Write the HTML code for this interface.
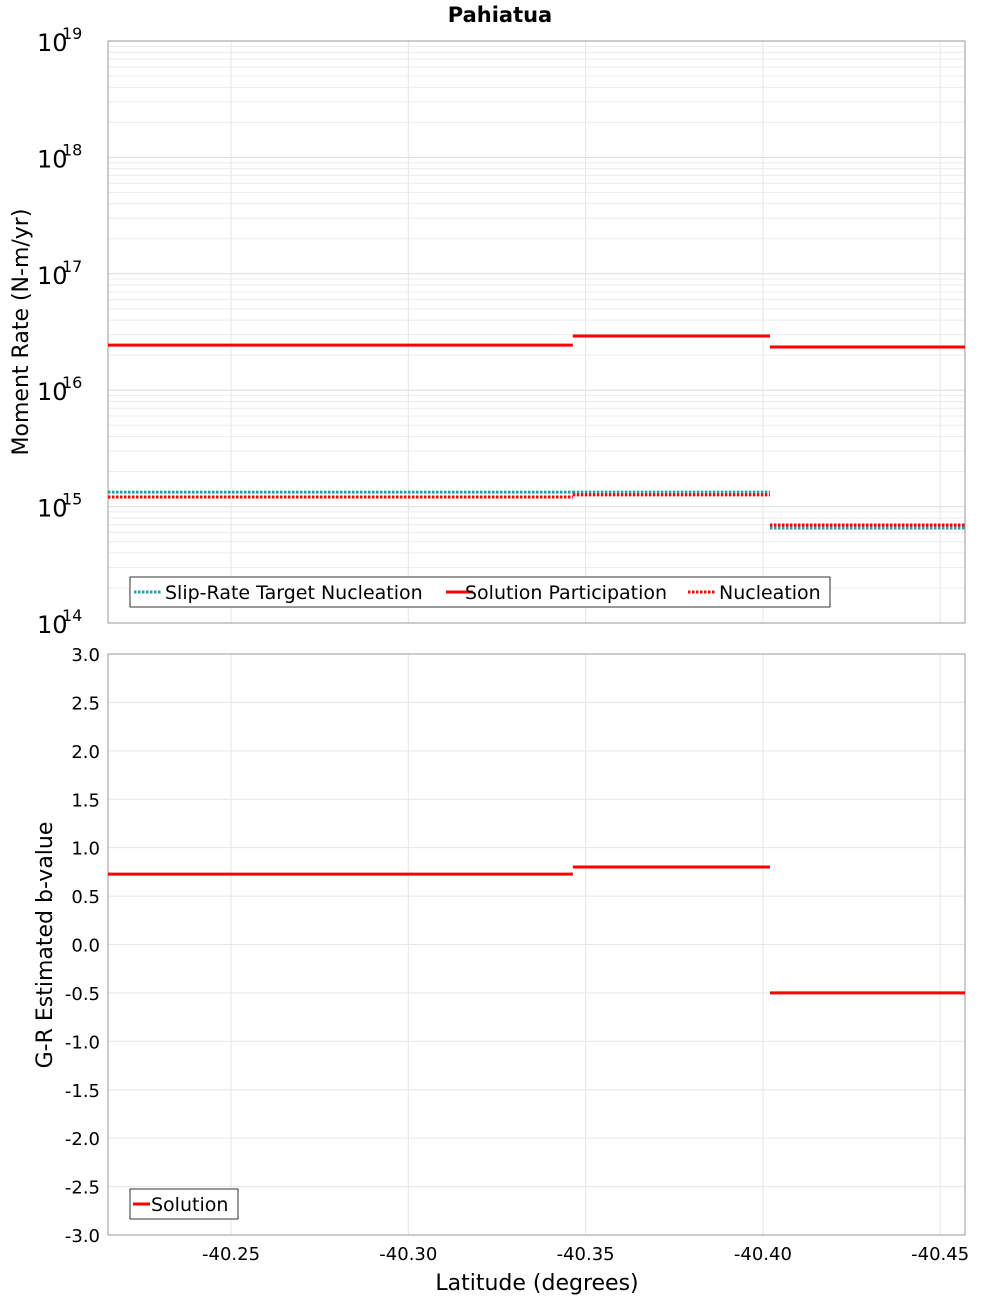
<!DOCTYPE html>
<html><head><meta charset="utf-8"><style>
body{margin:0;background:#fff;font-family:"Liberation Sans","DejaVu Sans",sans-serif}
svg text{font-family:"DejaVu Sans","Liberation Sans",sans-serif}
</style></head><body>
<svg id="chart" width="1000" height="1300" xmlns="http://www.w3.org/2000/svg">
<text x="500" y="22" text-anchor="middle" font-size="21" font-weight="bold">Pahiatua</text>
<g id="topPanel"></g>
<g id="botPanel"></g>
<text x="28" y="332" transform="rotate(-90 28 332)" text-anchor="middle" font-size="22">Moment Rate (N-m/yr)</text>
<text x="52" y="945" transform="rotate(-90 52 945)" text-anchor="middle" font-size="22">G-R Estimated b-value</text>
<text x="537" y="1290" text-anchor="middle" font-size="22">Latitude (degrees)</text>
</svg>
<script>
const segStarts=[-40.2153,-40.3464,-40.402];
const segEnds=[-40.3464,-40.402,-40.457];
const participation=[2.44e16,2.92e16,2.35e16];
const targetNucl=[1.33e15,1.33e15,6.55e14];
const nucleation=[1.21e15,1.26e15,6.95e14];
const bValues=[0.727,0.80,-0.50];
const xTicks=[-40.25,-40.30,-40.35,-40.40,-40.45];
const decades=[14,15,16,17,18,19];
const bTicks=[-3,-2.5,-2,-1.5,-1,-0.5,0,0.5,1,1.5,2,2.5,3];

const NS='http://www.w3.org/2000/svg';
const svgEl=document.getElementById('chart');
const L=108,R=965,T1=41,B1=623,T2=654,B2=1235;
const xMin=-40.2153,xMax=-40.457;
const X=v=>L+(v-xMin)/(xMax-xMin)*(R-L);
const Y1=v=>B1-(Math.log10(v)-14)/5*(B1-T1);
const Y2=v=>B2-(v+3)/6*(B2-T2);
function mk(tag,attrs,parent,txt){const e=document.createElementNS(NS,tag);for(const k in attrs)e.setAttribute(k,attrs[k]);if(txt!==undefined)e.textContent=txt;(parent||svgEl).appendChild(e);return e;}
const topG=document.getElementById('topPanel'),botG=document.getElementById('botPanel');
for(let d=14;d<19;d++)for(let m=1;m<10;m++){const y=Y1(m*Math.pow(10,d));
 const g=mk('line',{x1:L,x2:R,y1:y,y2:y,stroke:m==1?'#dcdcdc':'#ececec','stroke-width':1},topG);
 
 }
bTicks.forEach(v=>{const y=Y2(v);const g=mk('line',{x1:L,x2:R,y1:y,y2:y,stroke:'#e6e6e6'},botG);
 
 });
xTicks.forEach(v=>{const x=X(v);[[T1,B1,topG],[T2,B2,botG]].forEach(([a,b,p])=>{const g=mk('line',{x1:x,x2:x,y1:a,y2:b,stroke:'#e6e6e6'},p);
 
 });
 const t=mk('text',{x:x,y:1260,'text-anchor':'middle','font-size':18},botG,v.toFixed(2));
 
 });
[[T1,B1,topG],[T2,B2,botG]].forEach(([a,b,p])=>{const r=mk('rect',{x:L,y:a,width:R-L,height:b-a,fill:'none',stroke:'#999'},p);
 
 });
decades.forEach(d=>{const y=Y1(Math.pow(10,d));
 const t=mk('text',{x:37,y:y+10,'font-size':24},topG,'10');
 
 
 const s=mk('text',{x:62,y:y-2,'font-size':16},topG,String(d));
 
 });
bTicks.forEach(v=>{const t=mk('text',{x:100,y:Y2(v)+7,'text-anchor':'end','font-size':18},botG,v.toFixed(1));
 
 });
function seg(vals,Y,p,color,dash,name,w){vals.forEach((v,i)=>{const l=mk('line',{x1:X(segStarts[i]),x2:X(segEnds[i]),y1:Y(v),y2:Y(v),stroke:color,'stroke-width':w},p);
 if(dash)l.setAttribute('stroke-dasharray',dash);
 
 });}
seg(targetNucl,Y1,topG,'#1aa3a3','2.5,1.5','target-nucleation-segment',3);
seg(participation,Y1,topG,'#ff0000',null,'participation-segment',3);
seg(nucleation,Y1,topG,'#ff0000','2.5,1.5','nucleation-segment',3);
seg(bValues,Y2,botG,'#ff0000',null,'b-value-segment',3);
const lg=mk('g',{},topG);


mk('rect',{x:130,y:577,width:700,height:30,fill:'#fff',stroke:'#333'},lg);
[[134,'#1aa3a3','2.5,1.5','Slip-Rate Target Nucleation',165],[446,'#ff0000',null,'Solution Participation',465],[688,'#ff0000','2.5,1.5','Nucleation',719]].forEach(([x,c,d,t,tx])=>{
 const l=mk('line',{x1:x,x2:x+27,y1:592,y2:592,stroke:c,'stroke-width':3},lg);if(d)l.setAttribute('stroke-dasharray',d);
 
 
 const e=mk('text',{x:tx,y:599,'font-size':19},lg,t);
 
 });
const lg2=mk('g',{},botG);


mk('rect',{x:130,y:1189,width:108,height:30,fill:'#fff',stroke:'#333'},lg2);
mk('line',{x1:133,x2:150,y1:1204,y2:1204,stroke:'#ff0000','stroke-width':3},lg2);
const e2=mk('text',{x:151,y:1211,'font-size':19},lg2,'Solution');


</script>
</body></html>
